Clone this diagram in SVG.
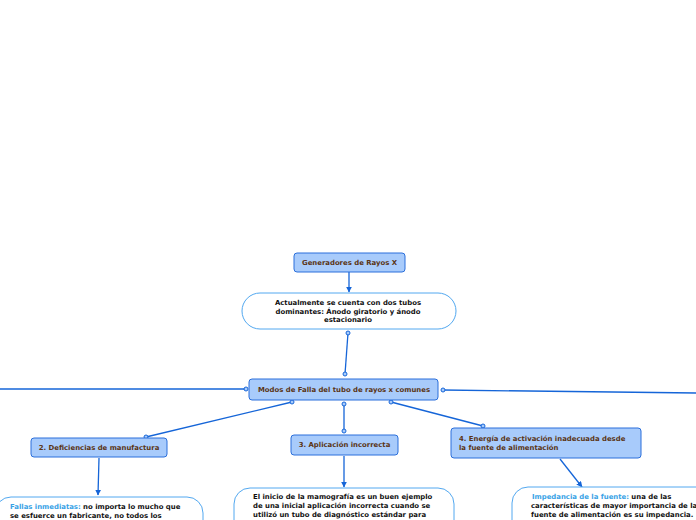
<svg xmlns="http://www.w3.org/2000/svg" width="696" height="520" viewBox="0 0 696 520">
<defs>
<marker id="arr" viewBox="0 0 10 10" refX="9" refY="5" markerWidth="6" markerHeight="6" orient="auto" markerUnits="userSpaceOnUse"><path d="M0,0 L10,5 L0,10 z" fill="#1565d8"/></marker>
<style>
.box{fill:#a8cbfb;stroke:#2a6fdb;stroke-width:1}
.card{fill:#ffffff;stroke:#52a8f0;stroke-width:1}
.t{font-family:"DejaVu Sans",Verdana,sans-serif;font-weight:bold;font-size:6.9px}
.br{fill:#5a3414}
.bk{fill:#111111}
.hl{fill:#38a2e6}
.c{fill:none;stroke:#1565d8;stroke-width:1.3}
.d{fill:#a8cbfb;stroke:#1565d8;stroke-width:1}
</style>
</defs>
<rect width="696" height="520" fill="#ffffff"/>
<g id="connectors">
<line class="c" x1="349" y1="272" x2="349" y2="292" marker-end="url(#arr)"/>
<line class="c" x1="348" y1="333" x2="345" y2="374"/>
<circle class="d" cx="348" cy="333" r="2"/>
<circle class="d" cx="345" cy="374" r="2"/>
<line class="c" x1="246" y1="389" x2="0" y2="389"/>
<circle class="d" cx="246" cy="389" r="2"/>
<line class="c" x1="443" y1="390" x2="696" y2="393"/>
<circle class="d" cx="443" cy="390" r="2"/>
<line class="c" x1="292" y1="402" x2="146" y2="437"/>
<circle class="d" cx="292" cy="402" r="2"/>
<circle class="d" cx="146" cy="437" r="2"/>
<line class="c" x1="344" y1="404" x2="344" y2="431"/>
<circle class="d" cx="344" cy="404" r="2"/>
<circle class="d" cx="344" cy="431" r="2"/>
<line class="c" x1="391" y1="402" x2="483" y2="426"/>
<circle class="d" cx="391" cy="402" r="2"/>
<circle class="d" cx="483" cy="426" r="2"/>
<line class="c" x1="99" y1="458" x2="98" y2="495" marker-end="url(#arr)"/>
<line class="c" x1="344" y1="456" x2="344" y2="487" marker-end="url(#arr)"/>
<line class="c" x1="560" y1="459" x2="582" y2="487" marker-end="url(#arr)"/>
</g>
<g id="n1">
<rect class="box" x="294" y="253" width="111" height="19" rx="3"/>
<text class="t br" x="349.5" y="265" text-anchor="middle">Generadores de Rayos X</text>
</g>
<g id="n2">
<rect class="card" x="242" y="293" width="214" height="36" rx="18"/>
<text class="t bk" text-anchor="middle"><tspan x="348" y="305">Actualmente se cuenta con dos tubos</tspan><tspan x="348" y="313.5">dominantes: Ánodo giratorio y ánodo</tspan><tspan x="348" y="322">estacionario</tspan></text>
</g>
<g id="n3">
<rect class="box" x="249" y="379" width="189" height="21" rx="3"/>
<text class="t br" x="344" y="392" text-anchor="middle">Modos de Falla del tubo de rayos x comunes</text>
</g>
<g id="n4">
<rect class="box" x="31" y="438" width="136" height="19" rx="3"/>
<text class="t br" x="99" y="450" text-anchor="middle">2. Deficiencias de manufactura</text>
</g>
<g id="n5">
<rect class="card" x="-5" y="497" width="208" height="40" rx="16"/>
<text class="t bk"><tspan x="10" y="509"><tspan class="hl">Fallas inmediatas:</tspan> no importa lo mucho que</tspan><tspan x="10" y="518">se esfuerce un fabricante, no todos los</tspan></text>
</g>
<g id="n6">
<rect class="box" x="291" y="435" width="107" height="20" rx="3"/>
<text class="t br" x="344.5" y="447" text-anchor="middle">3. Aplicación incorrecta</text>
</g>
<g id="n7">
<rect class="card" x="234" y="488" width="220" height="50" rx="16"/>
<text class="t bk"><tspan x="253" y="499">El inicio de la mamografía es un buen ejemplo</tspan><tspan x="253" y="508">de una inicial aplicación incorrecta cuando se</tspan><tspan x="253" y="517">utilizó un tubo de diagnóstico estándar para</tspan></text>
</g>
<g id="n8">
<rect class="box" x="451" y="428" width="190" height="30" rx="3"/>
<text class="t br"><tspan x="459" y="441">4. Energía de activación inadecuada desde</tspan><tspan x="459" y="450">la fuente de alimentación</tspan></text>
</g>
<g id="n9">
<rect class="card" x="512" y="487" width="200" height="50" rx="16"/>
<text class="t bk"><tspan x="532" y="499"><tspan class="hl"> Impedancia de la fuente:</tspan> una de las</tspan><tspan x="531" y="508">características de mayor importancia de la</tspan><tspan x="531" y="517">fuente de alimentación es su impedancia.</tspan></text>
</g>
</svg>
